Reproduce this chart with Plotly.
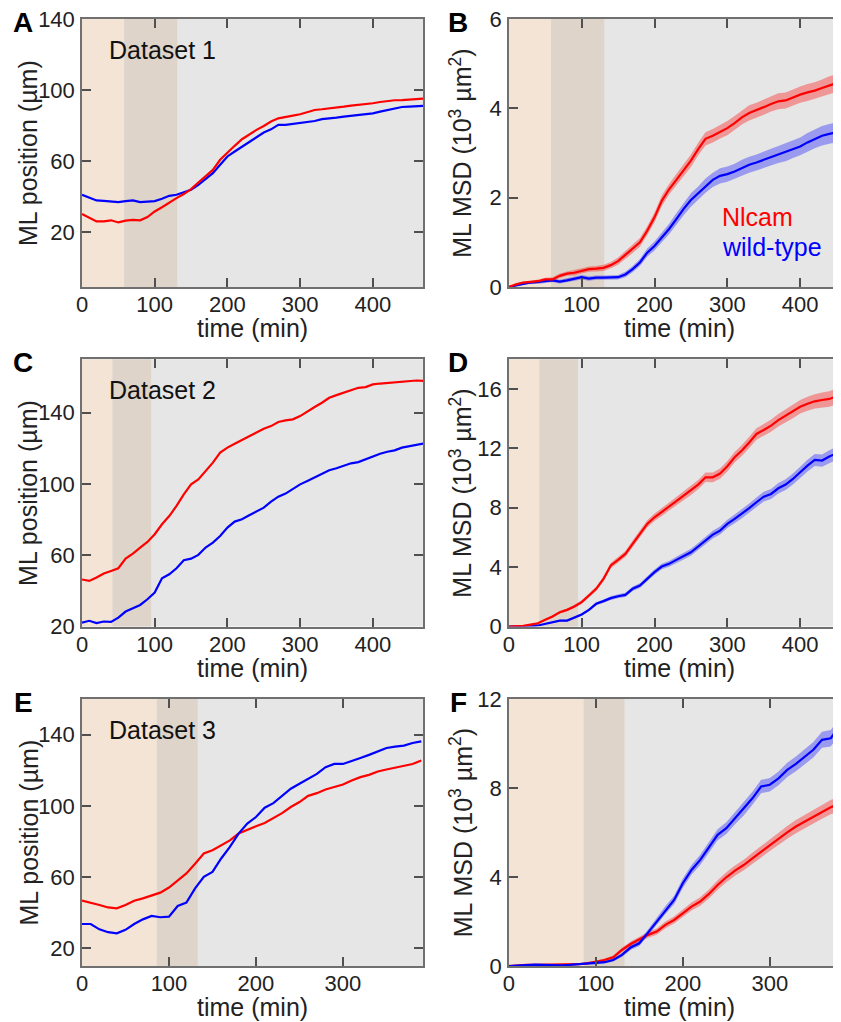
import plotly.graph_objects as go
from plotly.subplots import make_subplots

# time grids (min)
t_long = list(range(0, 471, 10))
t_short = list(range(0, 391, 10))

# Dataset 1
pos1_nlcam = [30.1, 27.9, 26.0, 26.0, 26.6, 25.4, 26.4, 26.8, 26.6, 28.4, 31.6, 34.0, 36.7, 39.1, 41.4, 44.2,
              47.9, 51.3, 55.0, 60.7, 64.8, 68.6, 72.3, 75.1, 77.6, 79.8, 82.3, 84.1, 84.7, 85.6, 86.4, 87.5,
              88.8, 89.2, 89.6, 89.9, 90.7, 91.3, 91.6, 92.2, 92.6, 93.3, 93.9, 94.3, 94.4, 94.8, 95.0, 95.2]
pos1_wt = [41.0, 39.5, 37.8, 37.6, 37.3, 36.9, 37.4, 37.8, 36.9, 37.3, 37.4, 38.8, 40.4, 41.0, 42.3, 43.8,
           46.6, 49.8, 53.2, 57.9, 62.6, 65.4, 68.2, 71.0, 73.8, 76.1, 77.9, 80.4, 80.4, 80.9, 81.3, 81.7,
           82.6, 83.6, 83.9, 84.5, 85.1, 85.6, 86.2, 86.6, 86.9, 87.9, 88.8, 89.8, 90.5, 90.7, 90.9, 91.1]
msd1_nlcam = [0, 0.06, 0.10, 0.11, 0.13, 0.17, 0.17, 0.25, 0.30, 0.32, 0.36, 0.40, 0.41, 0.43, 0.49, 0.58,
              0.72, 0.85, 1.00, 1.26, 1.56, 1.93, 2.19, 2.40, 2.61, 2.83, 3.09, 3.32, 3.39, 3.48, 3.56, 3.67,
              3.80, 3.90, 3.96, 4.03, 4.10, 4.16, 4.18, 4.25, 4.31, 4.36, 4.40, 4.46, 4.52, 4.57, 4.62, 4.66]
sem1_nlcam = [0, 0.02, 0.03, 0.03, 0.04, 0.04, 0.05, 0.05, 0.05, 0.06, 0.06, 0.06, 0.06, 0.07, 0.07, 0.08,
              0.08, 0.09, 0.10, 0.10, 0.11, 0.12, 0.12, 0.13, 0.13, 0.14, 0.14, 0.15, 0.15, 0.15, 0.16, 0.16,
              0.16, 0.17, 0.17, 0.17, 0.17, 0.18, 0.18, 0.18, 0.18, 0.19, 0.19, 0.19, 0.20, 0.20, 0.20, 0.21]
msd1_wt = [0, 0.04, 0.07, 0.10, 0.11, 0.13, 0.15, 0.12, 0.15, 0.19, 0.22, 0.19, 0.21, 0.21, 0.21, 0.22,
           0.28, 0.40, 0.55, 0.77, 0.92, 1.11, 1.30, 1.52, 1.75, 1.95, 2.10, 2.27, 2.40, 2.49, 2.53, 2.59,
           2.67, 2.74, 2.79, 2.85, 2.91, 2.97, 3.02, 3.09, 3.15, 3.24, 3.32, 3.39, 3.43, 3.47, 3.50, 3.53]
sem1_wt = [0, 0.02, 0.03, 0.03, 0.04, 0.04, 0.04, 0.04, 0.05, 0.05, 0.05, 0.05, 0.05, 0.05, 0.05, 0.05,
           0.06, 0.07, 0.08, 0.09, 0.10, 0.11, 0.12, 0.13, 0.14, 0.15, 0.15, 0.16, 0.16, 0.17, 0.17, 0.17,
           0.18, 0.18, 0.18, 0.19, 0.19, 0.19, 0.20, 0.20, 0.20, 0.21, 0.21, 0.22, 0.22, 0.22, 0.23, 0.23]

# Dataset 2
pos2_nlcam = [46.4, 45.6, 47.5, 49.7, 51.2, 52.7, 58.1, 60.9, 64.3, 67.5, 71.8, 77.4, 82.0, 87.7, 94.2, 99.8,
              102.6, 107.3, 112.0, 117.6, 120.4, 122.6, 124.7, 126.5, 128.8, 131.0, 132.5, 134.8, 135.7, 136.3,
              138.1, 140.9, 143.2, 145.6, 148.4, 149.9, 151.2, 152.7, 154.0, 154.4, 155.9, 156.4, 156.8, 157.2,
              157.4, 157.8, 158.1, 157.8]
pos2_wt = [22.2, 23.2, 21.9, 22.8, 22.6, 25.0, 28.4, 30.3, 32.1, 35.3, 39.1, 47.1, 49.3, 52.7, 57.2, 58.1,
           60.2, 64.3, 67.1, 70.8, 75.5, 78.9, 80.2, 82.4, 84.5, 86.7, 90.1, 92.9, 94.6, 97.0, 99.8, 101.7,
           103.6, 105.8, 107.7, 108.8, 110.1, 111.6, 112.3, 113.8, 115.7, 117.0, 118.1, 118.9, 120.4, 121.3,
           122.2, 122.8]
msd2_nlcam = [0, 0, 0.04, 0.13, 0.22, 0.45, 0.67, 0.96, 1.12, 1.35, 1.64, 2.09, 2.54, 3.21, 4.11, 4.49,
              4.89, 5.57, 6.24, 6.91, 7.36, 7.70, 8.08, 8.44, 8.82, 9.16, 9.56, 10.05, 10.05, 10.30, 10.80, 11.40,
              11.85, 12.40, 12.97, 13.24, 13.53, 13.90, 14.20, 14.47, 14.80, 15.00, 15.17, 15.26, 15.33, 15.50,
              15.65, 15.75]
sem2_nlcam = [0, 0, 0.02, 0.04, 0.05, 0.07, 0.08, 0.09, 0.10, 0.11, 0.12, 0.13, 0.15, 0.16, 0.18, 0.19,
              0.20, 0.22, 0.23, 0.24, 0.25, 0.26, 0.27, 0.28, 0.29, 0.30, 0.31, 0.32, 0.33, 0.34, 0.35, 0.36,
              0.37, 0.38, 0.39, 0.40, 0.41, 0.42, 0.43, 0.44, 0.45, 0.47, 0.48, 0.50, 0.52, 0.54, 0.56, 0.58]
msd2_wt = [0, 0, 0, 0.02, 0.07, 0.18, 0.27, 0.40, 0.40, 0.58, 0.81, 1.12, 1.53, 1.71, 1.91, 2.04,
           2.13, 2.54, 2.76, 3.21, 3.66, 4.04, 4.22, 4.49, 4.73, 5.00, 5.39, 5.79, 6.19, 6.46, 6.91, 7.25,
           7.59, 7.97, 8.37, 8.75, 8.93, 9.31, 9.56, 9.94, 10.39, 10.84, 11.22, 11.18, 11.45, 11.67, 11.90, 12.05]
sem2_wt = [0, 0, 0, 0.01, 0.02, 0.03, 0.04, 0.05, 0.06, 0.07, 0.08, 0.09, 0.10, 0.11, 0.12, 0.13,
           0.14, 0.15, 0.16, 0.17, 0.18, 0.19, 0.20, 0.21, 0.22, 0.23, 0.24, 0.25, 0.26, 0.27, 0.28, 0.29,
           0.30, 0.31, 0.32, 0.33, 0.34, 0.35, 0.36, 0.37, 0.38, 0.39, 0.40, 0.41, 0.42, 0.43, 0.44, 0.45]

# Dataset 3
pos3_nlcam = [46.7, 45.7, 44.3, 42.9, 42.4, 44.3, 46.7, 48.0, 49.5, 51.2, 54.1, 57.9, 62.0, 67.5, 73.2, 75.0,
              77.8, 80.6, 84.4, 86.6, 88.5, 90.3, 93.1, 95.9, 99.3, 102.1, 105.6, 107.1, 109.2, 110.5, 112.0,
              114.2, 116.1, 117.4, 119.3, 120.4, 121.3, 122.6, 123.5, 125.4]
pos3_wt = [33.6, 33.6, 30.6, 29.0, 28.4, 30.3, 33.6, 36.2, 38.1, 37.4, 37.7, 43.7, 45.6, 53.6, 60.1, 62.9,
           70.4, 76.9, 84.4, 90.0, 93.7, 98.9, 101.5, 105.8, 109.6, 112.4, 115.1, 117.9, 121.7, 123.5, 123.5,
           125.4, 126.9, 128.6, 130.6, 132.5, 133.2, 133.8, 135.3, 136.2]
msd3_nlcam = [0, 0.03, 0.05, 0.05, 0.05, 0.05, 0.05, 0.06, 0.08, 0.12, 0.18, 0.27, 0.39, 0.72, 0.99, 1.20,
              1.40, 1.55, 1.85, 2.07, 2.37, 2.67, 2.90, 3.24, 3.64, 3.99, 4.29, 4.54, 4.84, 5.14, 5.44, 5.74,
              6.01, 6.27, 6.49, 6.72, 6.94, 7.14, 7.30, 7.45]
sem3_nlcam = [0, 0.02, 0.03, 0.03, 0.03, 0.03, 0.03, 0.04, 0.04, 0.05, 0.06, 0.07, 0.08, 0.10, 0.11, 0.12,
              0.13, 0.14, 0.15, 0.16, 0.17, 0.18, 0.19, 0.20, 0.21, 0.22, 0.23, 0.24, 0.25, 0.26, 0.27, 0.28,
              0.29, 0.30, 0.30, 0.31, 0.32, 0.32, 0.33, 0.34]
msd3_wt = [0, 0.02, 0.06, 0.06, 0.05, 0.03, 0.03, 0.05, 0.08, 0.09, 0.12, 0.17, 0.27, 0.50, 0.83, 1.02,
           1.50, 2.00, 2.52, 2.97, 3.72, 4.32, 4.77, 5.34, 5.90, 6.20, 6.64, 7.05, 7.54, 8.07, 8.15, 8.44,
           8.82, 9.09, 9.39, 9.72, 10.17, 10.24, 10.77, 11.00]
sem3_wt = [0, 0.02, 0.03, 0.03, 0.03, 0.03, 0.03, 0.03, 0.04, 0.04, 0.05, 0.06, 0.07, 0.09, 0.11, 0.12,
           0.14, 0.16, 0.18, 0.19, 0.21, 0.22, 0.23, 0.24, 0.25, 0.26, 0.27, 0.28, 0.29, 0.30, 0.30, 0.31,
           0.32, 0.33, 0.34, 0.35, 0.36, 0.37, 0.38, 0.39]

# shaded phases (start, end of phase 1 / phase 2) per dataset, in min
phases = [(0, 58, 131), (0, 42, 95), (0, 86, 133)]

RED = "#ff0000"
BLUE = "#0000ff"
RED_BAND = "rgba(255,0,0,0.35)"
BLUE_BAND = "rgba(0,0,255,0.33)"
PEACH = "#f3e4d6"
TAUPE = "#ded4ca"
FONT = "Liberation Sans, Arial, sans-serif"

W, H = 841, 1022
PAGE_PAD = 8  # page body margin around the plot div


def px_x(x):
    return (x - PAGE_PAD) / W


def px_y(y):
    return 1 - (y - PAGE_PAD) / H


fig = make_subplots(rows=3, cols=2)


def add_line(row, col, t, y, color):
    fig.add_trace(go.Scatter(x=t, y=y, mode="lines", line=dict(color=color, width=2.2),
                             showlegend=False, hoverinfo="skip"), row=row, col=col)


def add_band(row, col, t, y, sem, color):
    upper = [a + b for a, b in zip(y, sem)]
    lower = [a - b for a, b in zip(y, sem)]
    fig.add_trace(go.Scatter(x=t + t[::-1], y=upper + lower[::-1], fill="toself", fillcolor=color,
                             line=dict(width=0), mode="lines", showlegend=False, hoverinfo="skip"),
                  row=row, col=col)


# position panels
add_line(1, 1, t_long, pos1_wt, BLUE)
add_line(1, 1, t_long, pos1_nlcam, RED)
add_line(2, 1, t_long, pos2_wt, BLUE)
add_line(2, 1, t_long, pos2_nlcam, RED)
add_line(3, 1, t_short, pos3_nlcam, RED)
add_line(3, 1, t_short, pos3_wt, BLUE)

# MSD panels
add_band(1, 2, t_long, msd1_wt, sem1_wt, BLUE_BAND)
add_band(1, 2, t_long, msd1_nlcam, sem1_nlcam, RED_BAND)
add_line(1, 2, t_long, msd1_wt, BLUE)
add_line(1, 2, t_long, msd1_nlcam, RED)
add_band(2, 2, t_long, msd2_wt, sem2_wt, BLUE_BAND)
add_band(2, 2, t_long, msd2_nlcam, sem2_nlcam, RED_BAND)
add_line(2, 2, t_long, msd2_wt, BLUE)
add_line(2, 2, t_long, msd2_nlcam, RED)
add_band(3, 2, t_short, msd3_nlcam, sem3_nlcam, RED_BAND)
add_band(3, 2, t_short, msd3_wt, sem3_wt, BLUE_BAND)
add_line(3, 2, t_short, msd3_nlcam, RED)
add_line(3, 2, t_short, msd3_wt, BLUE)

# panel boxes in page pixels: (x left, x right), (y top, y bottom)
col_x = [(82, 423), (508.8, 849)]
row_y = [(19, 287), (359.3, 626.5), (699, 966)]

xranges = [[0, 469], [0, 467], [0, 469], [0, 467], [0, 392], [0, 391]]
yranges = [[-11, 140.1], [0, 6.005], [20, 170], [0, 18], [10, 160], [0, 12.005]]
xticks = [[0, 100, 200, 300, 400], [100, 200, 300, 400], [0, 100, 200, 300, 400],
          [0, 100, 200, 300, 400], [0, 100, 200, 300], [0, 100, 200, 300]]
yticks = [[20, 60, 100, 140], [0, 2, 4, 6], [20, 60, 100, 140], [0, 4, 8, 12, 16],
          [20, 60, 100, 140], [0, 4, 8, 12]]

axis_style = dict(showline=True, mirror="ticks", linecolor="#707070", linewidth=1.5,
                  ticks="inside", ticklen=9, tickwidth=1.5, tickcolor="#505050",
                  showgrid=False, zeroline=False, automargin=False, ticklabeloverflow="allow",
                  tickfont=dict(family=FONT, size=22, color="#222222"))

shapes = []
annotations = []
letters = ["A", "B", "C", "D", "E", "F"]
for i in range(6):
    r, c = i // 2, i % 2
    xl, xr = col_x[c]
    yt, yb = row_y[r]
    n = "" if i == 0 else str(i + 1)
    fig.layout["xaxis" + n].update(domain=[px_x(xl), min(px_x(xr), 1.0)], range=xranges[i],
                                   tickvals=xticks[i], ticklabelstandoff=-3, **axis_style)
    fig.layout["yaxis" + n].update(domain=[px_y(yb), px_y(yt)], range=yranges[i], tickvals=yticks[i],
                                   ticklabelstandoff=1, **axis_style)
    p0, p1, p2 = phases[r]
    for a, b, colr in [(p0, p1, PEACH), (p1, p2, TAUPE)]:
        shapes.append(dict(type="rect", xref="x" + n, yref="y" + n + " domain", x0=a, x1=b, y0=0, y1=1,
                           fillcolor=colr, line=dict(width=0), layer="below"))
    # axis titles
    annotations.append(dict(text="time (min)", xref="paper", yref="paper", x=px_x(xl + 170.5),
                            y=px_y(yb + 41), xanchor="center", yanchor="middle", showarrow=False,
                            font=dict(family=FONT, size=25, color="#222222")))
    if c == 0:
        ytitle, off = "ML position (µm)", 54
    else:
        ytitle, off = "ML MSD (10<sup>3</sup> µm<sup>2</sup>)", 48
    annotations.append(dict(text=ytitle, xref="paper", yref="paper", x=px_x(xl - off), y=px_y((yt + yb) / 2),
                            xanchor="center", yanchor="middle", textangle=-90, showarrow=False,
                            font=dict(family=FONT, size=25, color="#222222")))
    # panel letters
    annotations.append(dict(text="<b>" + letters[i] + "</b>", xref="paper", yref="paper",
                            x=px_x(23 if c == 0 else 458), y=px_y(yt + 3), xanchor="center",
                            yanchor="middle", showarrow=False,
                            font=dict(family=FONT, size=28, color="#000000")))
    if c == 0:
        annotations.append(dict(text="Dataset " + str(r + 1), xref="paper", yref="paper", x=px_x(107),
                                y=px_y(yt + 31), xanchor="left", yanchor="middle", showarrow=False,
                                font=dict(family=FONT, size=25, color="#111111")))

annotations.append(dict(text="Nlcam", xref="paper", yref="paper", x=px_x(720), y=px_y(217), xanchor="left",
                        yanchor="middle", showarrow=False, font=dict(family=FONT, size=25, color=RED)))
annotations.append(dict(text="wild-type", xref="paper", yref="paper", x=px_x(720), y=px_y(247), xanchor="left",
                        yanchor="middle", showarrow=False, font=dict(family=FONT, size=25, color=BLUE)))

fig.update_layout(width=W, height=H, margin=dict(l=0, r=0, t=0, b=0, autoexpand=False),
                  plot_bgcolor="#e6e6e6", paper_bgcolor="white", shapes=shapes, annotations=annotations,
                  showlegend=False, font=dict(family=FONT))

fig.write_html("out.html")
